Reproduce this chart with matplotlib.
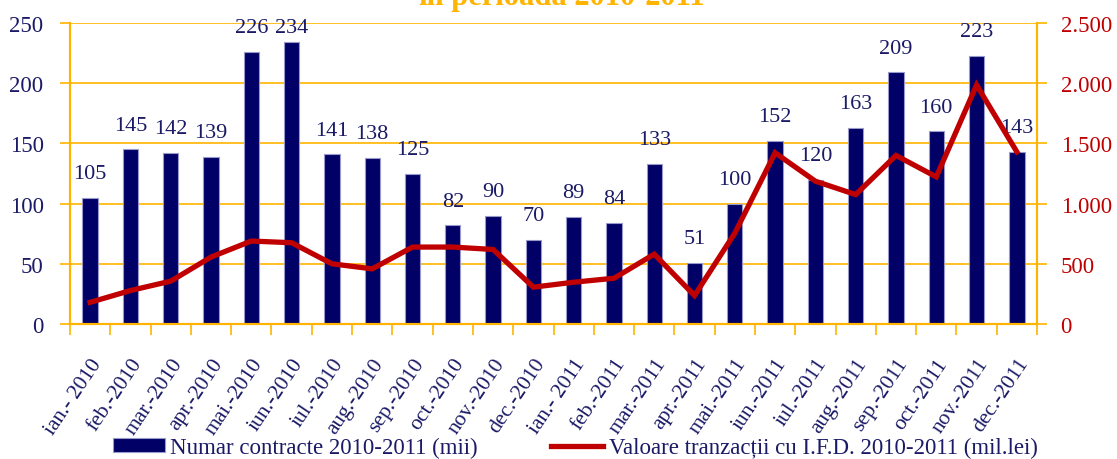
import matplotlib
matplotlib.use('Agg')
import matplotlib.pyplot as plt
from matplotlib.ticker import FuncFormatter, FixedLocator
from matplotlib.transforms import ScaledTranslation
import numpy as np

# date
luni = ['ian.- 2010', 'feb.-2010', 'mar.-2010', 'apr.-2010', 'mai.-2010', 'iun.-2010',
        'iul.-2010', 'aug.-2010', 'sep.-2010', 'oct.-2010', 'nov.-2010', 'dec.-2010',
        'ian.- 2011', 'feb.-2011', 'mar.-2011', 'apr.-2011', 'mai.-2011', 'iun.-2011',
        'iul.-2011', 'aug.-2011', 'sep.-2011', 'oct.-2011', 'nov.-2011', 'dec.-2011']
contracte = [105, 145, 142, 139, 226, 234, 141, 138, 125, 82, 90, 70,
             89, 84, 133, 51, 100, 152, 120, 163, 209, 160, 223, 143]
valoare = [180, 278, 356, 556, 689, 675, 500, 458, 639, 639, 619, 306,
           347, 380, 580, 236, 755, 1422, 1186, 1075, 1400, 1222, 1985, 1430]

NAVY = '#000066'
TXT = '#1a1a66'
RED = '#c00000'
GOLD = '#ffb400'

plt.rcParams['font.family'] = ['Liberation Serif', 'DejaVu Serif']
fig = plt.figure(figsize=(11.17, 4.6), dpi=100)
ax = fig.add_axes([70/1117, 1-325/460, 967/1117, 301/460])
ax2 = ax.twinx()

x = np.arange(len(luni))
bars = ax.bar(x, contracte, width=0.38, color=NAVY, edgecolor='#9999cc', linewidth=0.8,
              label='Numar contracte 2010-2011 (mii)', zorder=2)
for xi, v in zip(x, contracte):
    ax.text(xi, min(v + 20, 246), str(v), ha='center', va='center', fontsize=16, color=TXT)

ln, = ax2.plot(x, valoare, color=RED, lw=3.8, solid_joinstyle='miter',
               label='Valoare tranzacții cu I.F.D. 2010-2011 (mil.lei)', zorder=3)

ax.set_xlim(-0.5, len(luni) - 0.5)
ax.set_ylim(0, 250)
ax2.set_ylim(0, 2500)
ax.set_yticks(range(0, 251, 50))
ax2.set_yticks(range(0, 2501, 500))
ax2.yaxis.set_major_formatter(FuncFormatter(lambda v, p: f'{int(v):,}'.replace(',', '.')))
ax.grid(axis='y', color=GOLD, lw=1.2, zorder=0)
ax.set_axisbelow(True)

ax.set_xticks(x)
ax.set_xticklabels(luni, rotation=56, ha='right', rotation_mode='anchor', fontsize=15.5, color=TXT)
for lab in ax.get_xticklabels():
    lab.set_transform(lab.get_transform() + ScaledTranslation(-6/100, 0, fig.dpi_scale_trans))
ax.xaxis.set_minor_locator(FixedLocator(np.arange(-0.5, len(luni), 1)))
ax.tick_params(axis='x', which='major', length=0, pad=22)
ax.tick_params(axis='x', which='minor', length=8, width=1.2, color=GOLD)
ax.tick_params(axis='y', length=7, width=1.2, color=GOLD, labelsize=16.5, labelcolor=TXT, pad=12)
ax2.tick_params(axis='y', length=7, width=1.2, color=GOLD, labelsize=16.5, labelcolor=RED, pad=10)

for a in (ax, ax2):
    a.spines['top'].set_visible(False)
    for s in ('left', 'right', 'bottom'):
        a.spines[s].set_color(GOLD)
        a.spines[s].set_linewidth(1.5)

fig.text(0.503, 1 - 5/460, 'în perioada 2010-2011', ha='center', va='baseline',
         fontsize=22, fontweight='bold', color=GOLD)

leg = fig.legend(handles=[bars, ln], loc='lower center', bbox_to_anchor=(0.515, -0.043), ncol=2,
                 frameon=False, fontsize=16.5, handlelength=2.25, handleheight=0.55,
                 handletextpad=0.25, columnspacing=3.2)
for t in leg.get_texts():
    t.set_color(TXT)

fig.savefig('out.png', dpi=100)
